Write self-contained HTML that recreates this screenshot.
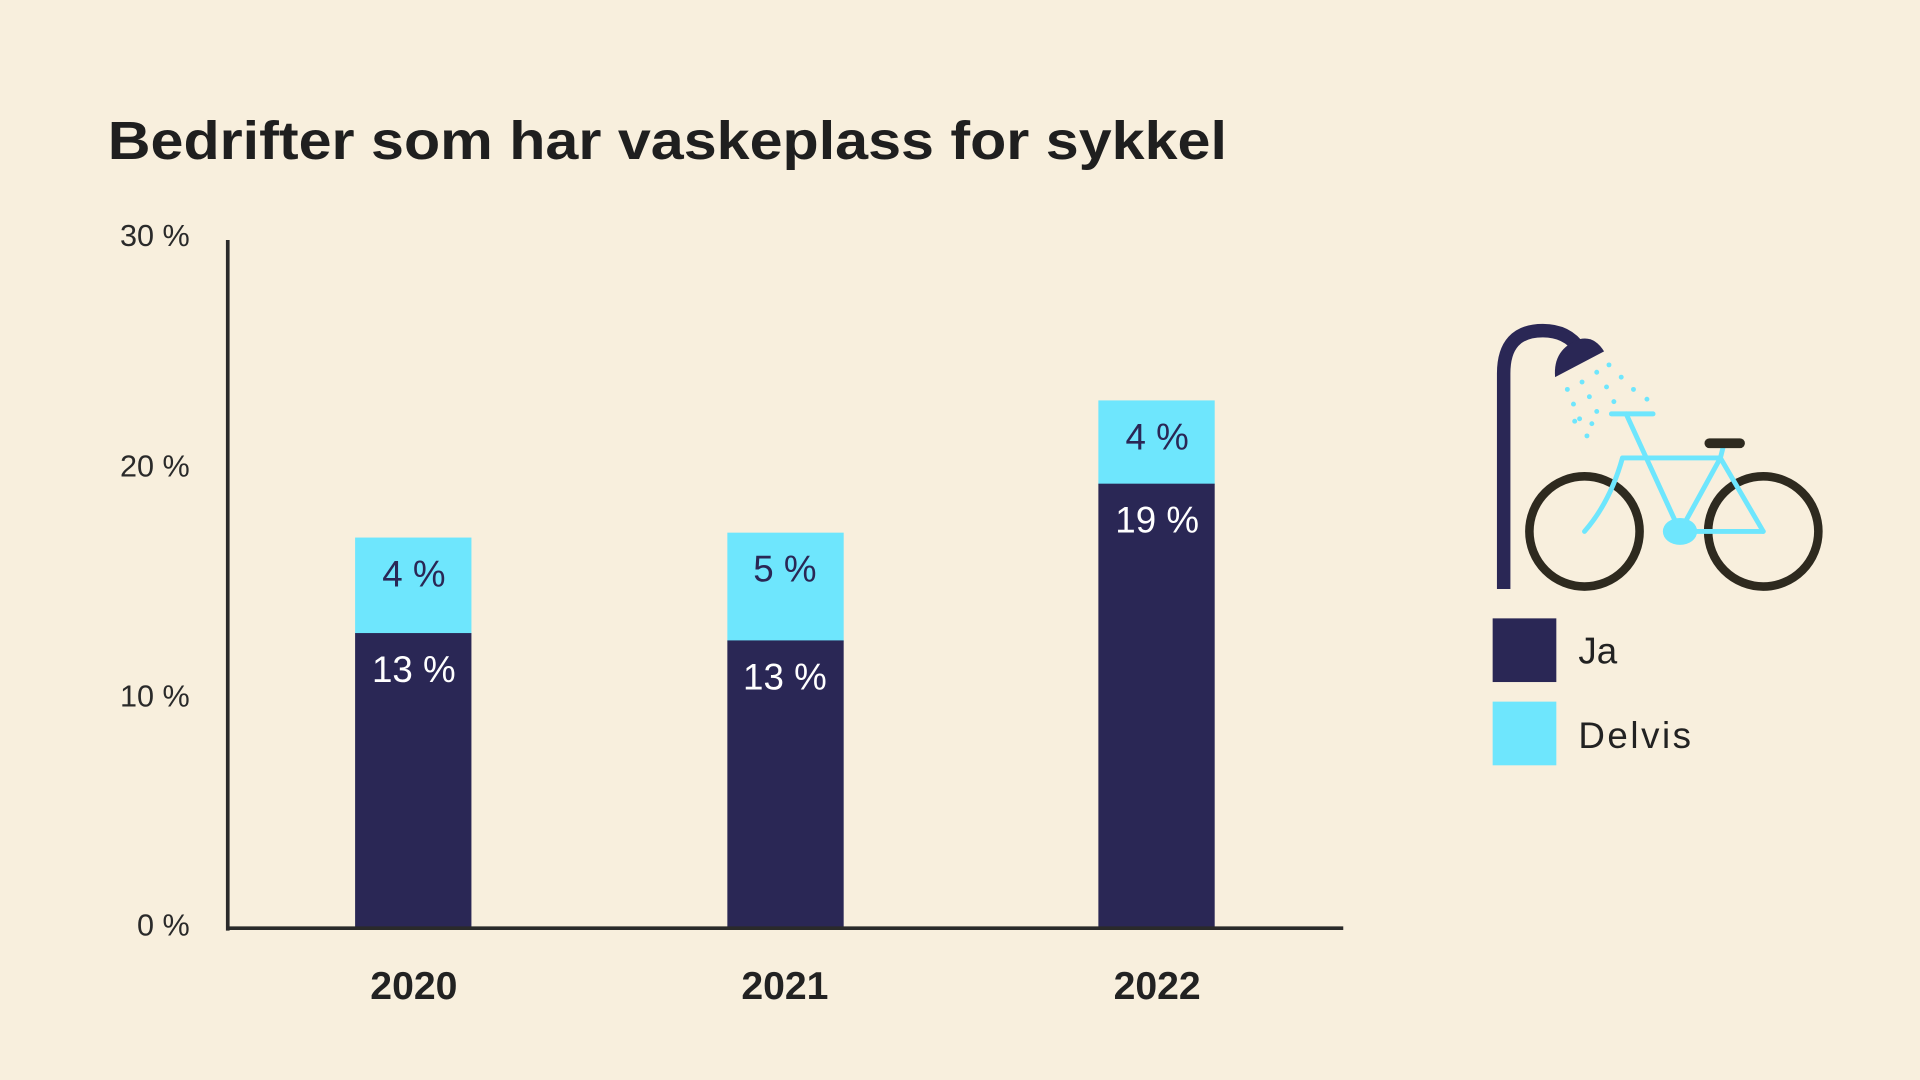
<!DOCTYPE html>
<html><head><meta charset="utf-8"><style>
html,body{margin:0;padding:0;background:#f8efdd;}
svg{display:block;}
text{font-family:"Liberation Sans",sans-serif;}
</style></head><body>
<svg width="1920" height="1080" viewBox="0 0 1568 882" xmlns="http://www.w3.org/2000/svg">
<rect width="1568" height="882" fill="#f8efdd"/>
<text x="88" y="130" font-size="44" font-weight="bold" fill="#1f1f1f" textLength="914" lengthAdjust="spacingAndGlyphs">Bedrifter som har vaskeplass for sykkel</text>
<g font-size="25" fill="#2a2a2a" text-anchor="end">
<text x="155" y="201">30 %</text>
<text x="155" y="389">20 %</text>
<text x="155" y="577">10 %</text>
<text x="155" y="764">0 %</text>
</g>
<rect x="290" y="439" width="95" height="79" fill="#6ee6fd"/>
<rect x="290" y="517" width="95" height="241" fill="#2a2755"/>
<rect x="594" y="435" width="95" height="89" fill="#6ee6fd"/>
<rect x="594" y="523" width="95" height="235" fill="#2a2755"/>
<rect x="897" y="327" width="95" height="69" fill="#6ee6fd"/>
<rect x="897" y="395" width="95" height="363" fill="#2a2755"/>
<g font-size="30" text-anchor="middle">
<text x="338" y="479" fill="#2a2755">4 %</text>
<text x="338" y="557" fill="#ffffff">13 %</text>
<text x="641" y="475" fill="#2a2755">5 %</text>
<text x="641" y="563" fill="#ffffff">13 %</text>
<text x="945" y="367" fill="#2a2755">4 %</text>
<text x="945" y="435" fill="#ffffff">19 %</text>
</g>
<line x1="186" y1="196" x2="186" y2="760" stroke="#2a2a2a" stroke-width="3"/>
<line x1="185" y1="758" x2="1097" y2="758" stroke="#2a2a2a" stroke-width="3"/>
<g font-size="32" font-weight="bold" fill="#222" text-anchor="middle">
<text x="338" y="816">2020</text>
<text x="641" y="816">2021</text>
<text x="945" y="816">2022</text>
</g>
<rect x="1219" y="505" width="52" height="52" fill="#2a2755"/>
<rect x="1219" y="573" width="52" height="52" fill="#6ee6fd"/>
<text x="1289" y="542" font-size="30" fill="#222">Ja</text>
<text x="1289" y="611" font-size="30" fill="#222" textLength="92">Delvis</text>
<path d="M1228 481 V305 Q1228 270 1260 270 Q1280 270 1290 285" fill="none" stroke="#2a2755" stroke-width="11"/>
<path d="M1270 308 Q1268 285 1290 277 Q1302 274 1310 287 Z" fill="#2a2755"/>
<g fill="#6ee6fd">
<circle cx="1280" cy="318" r="2"/><circle cx="1285" cy="330" r="2"/><circle cx="1290" cy="342" r="2"/><circle cx="1296" cy="356" r="2"/>
<circle cx="1292" cy="312" r="2"/><circle cx="1298" cy="324" r="2"/><circle cx="1304" cy="336" r="2"/>
<circle cx="1304" cy="304" r="2"/><circle cx="1312" cy="316" r="2"/><circle cx="1318" cy="328" r="2"/>
<circle cx="1314" cy="298" r="2"/><circle cx="1324" cy="308" r="2"/><circle cx="1334" cy="318" r="2"/><circle cx="1345" cy="326" r="2"/>
<circle cx="1286" cy="344" r="2"/><circle cx="1300" cy="346" r="2"/>
</g>
<circle cx="1294" cy="434" r="45" fill="none" stroke="#2e2a1f" stroke-width="7"/>
<circle cx="1440" cy="434" r="45" fill="none" stroke="#2e2a1f" stroke-width="7"/>
<g stroke="#6ee6fd" stroke-width="4" fill="none" stroke-linecap="round">
<line x1="1328" y1="338" x2="1372" y2="434"/>
<line x1="1325" y1="374" x2="1405" y2="374"/>
<path d="M1325 374 Q1315 410 1294 434"/>
<line x1="1372" y1="434" x2="1440" y2="434"/>
<line x1="1405" y1="374" x2="1440" y2="434"/>
<line x1="1372" y1="434" x2="1405" y2="374"/>
<line x1="1405" y1="374" x2="1408" y2="362"/>
<line x1="1316" y1="338" x2="1350" y2="338"/>
</g>
<ellipse cx="1372" cy="434" rx="14" ry="11" fill="#6ee6fd"/>
<line x1="1396" y1="362" x2="1421" y2="362" stroke="#2e2a1f" stroke-width="8" stroke-linecap="round"/>
</svg>
</body></html>
